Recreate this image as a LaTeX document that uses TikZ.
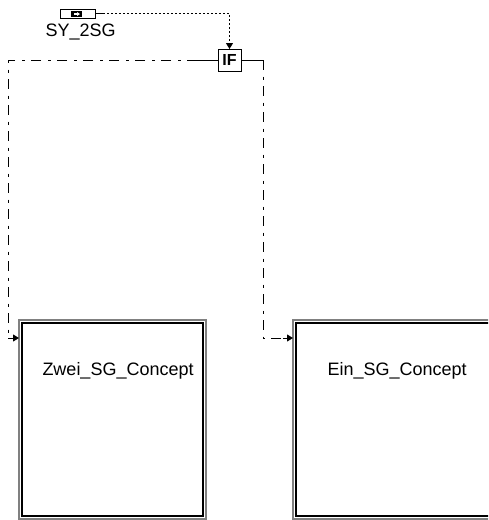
\documentclass[tikz,border=0pt]{standalone}
\usepackage{fontspec}
\setmainfont{Liberation Sans}
\usetikzlibrary{arrows.meta,calc}
\begin{document}
\begin{tikzpicture}[x=1pt,y=-1pt, line width=1pt,
 dashdot/.style={dash pattern=on 10pt off 6.5pt on 3pt off 6.5pt},
 dotw/.style={dash pattern=on 2pt off 2pt},
 tip/.style={-{Triangle[length=6pt,width=7pt]}},
 lbl/.style={font=\fontsize{18}{20}\selectfont, inner sep=0pt, anchor=base west},
 frame/.style={draw=gray, line width=2pt, inner sep=0pt, outer sep=0pt, anchor=north west},
 ]
\useasboundingbox (0,0) rectangle (488,520);
\clip (0,0) rectangle (488,520);
% control terminal
\node[draw, fill=white, minimum width=35, minimum height=9, anchor=north west, inner sep=0pt, outer sep=0pt] (sy) at (60,9) {};
\fill (71,11) rectangle (82,17);
\fill[white] (74,13.2) -- (77,13.2) -- (77,12) -- (80,14) -- (77,16) -- (77,14.8) -- (74,14.8) -- cycle;
\node[lbl] (sylbl) at (45,36) {SY\_2SG};
% IF
\node[draw, fill=white, minimum width=23, minimum height=22, inner sep=0pt, outer sep=0pt, font=\fontsize{16}{16}\selectfont\bfseries] (if) at (229.5,60) {IF};
% boxes
\node[frame, minimum width=187, minimum height=199] (zwei) at (19,320) {};
\draw[line width=1.2pt] ($(zwei.north west)+(3,3)$) rectangle ($(zwei.south east)+(-3,-3)$);
\node[frame, minimum width=220, minimum height=199] (ein) at (293,320) {};
\draw[line width=1.2pt] ($(ein.north west)+(3,3)$) rectangle ($(ein.south east)+(-3,-3)$);
\node[lbl] (zweilbl) at (42,375) {Zwei\_SG\_Concept};
\node[lbl] (einlbl) at (327,375) {Ein\_SG\_Concept};
% wire from terminal
\draw (sy.east) -- ++(8,0) coordinate (s1);
\draw[dotw, tip] (s1) -| (if.north);
% left wire
\coordinate (lc) at (8,60);
\coordinate (ld) at (8,338);
\draw (if.west) -- ++(-21,0) coordinate (l1);
\draw[dashdot] (l1) -- (lc) -- (ld);
\draw[tip] (ld) -- (ld -| zwei.west);
% right wire
\coordinate (rc) at (263,60);
\coordinate (rd) at (263,338);
\draw (if.east) -- (rc);
\draw[dashdot] (rc) -- (rd) -- ++(20,0) coordinate (r2);
\draw[tip] (r2) -- (rd -| ein.west);
\end{tikzpicture}
\end{document}
